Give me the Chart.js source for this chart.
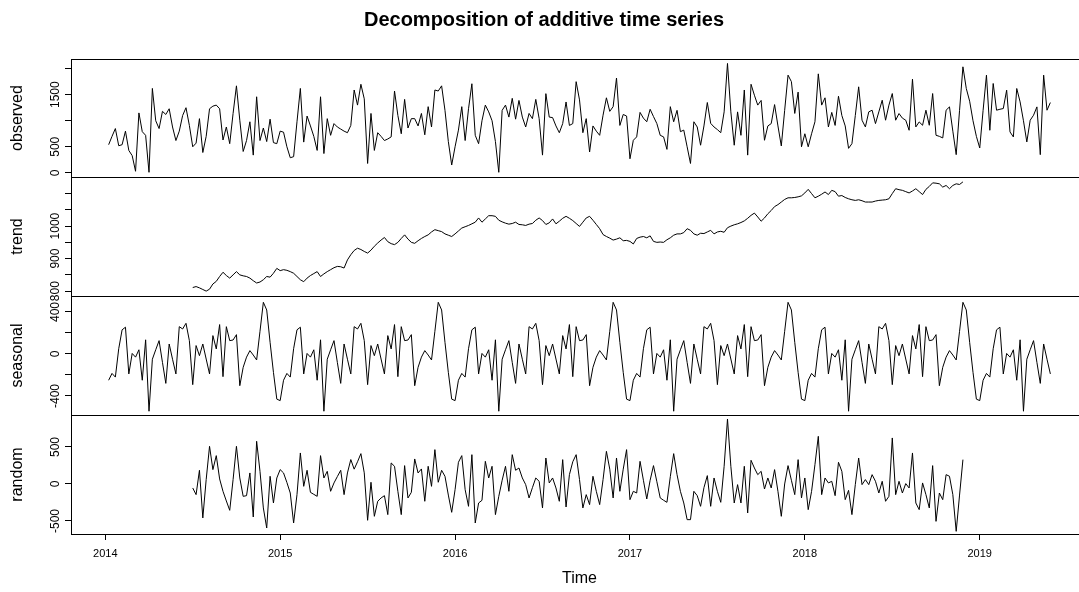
<!DOCTYPE html>
<html>
<head>
<meta charset="utf-8">
<title>Decomposition of additive time series</title>
<script src="https://cdn.jsdelivr.net/npm/chart.js@4.4.1/dist/chart.umd.min.js"></script>
<style>
  html, body { margin: 0; padding: 0; background: #fff; overflow: hidden; }
  #wrap { position: relative; width: 1079px; height: 592px; overflow: hidden; }
  #wrap canvas { position: absolute; left: 0; }
</style>
</head>
<body>
<div id="wrap">
  <canvas id="pObserved" width="1146" height="182" style="top:0px"></canvas>
  <canvas id="pTrend" width="1146" height="129" style="top:172px"></canvas>
  <canvas id="pSeasonal" width="1146" height="129" style="top:291px"></canvas>
  <canvas id="pRandom" width="1146" height="182" style="top:410px"></canvas>
</div>
<script>
// weekly series, first observation = week 2 of 2014
const observed = [
  540, 700, 850, 520, 540, 800, 430, 330, 30, 1150,
  790, 720, 10, 1620, 1000, 850, 1180, 1120, 1230, 880,
  620, 800, 1100, 1250, 910, 500, 570, 1040, 390, 700,
  1230, 1280, 1300, 1230, 630, 880, 560, 1140, 1670, 1010,
  410, 620, 980, 340, 1460, 620, 860, 600, 1030, 580,
  560, 800, 780, 500, 290, 310, 980, 1620, 590, 1090,
  900, 700, 430, 1460, 370, 1040, 720, 945, 880, 840,
  800, 770, 910, 1590, 1300, 1700, 1420, 180, 1140, 430,
  770, 700, 620, 650, 690, 1570, 1100, 750, 1410, 860,
  1040, 1040, 900, 1140, 730, 1270, 880, 1590, 1570, 1670,
  1200, 600, 150, 500, 820, 1270, 620, 1230, 1710, 720,
  560, 1000, 1300, 1170, 1000, 600, 10, 1200, 1300, 1070,
  1430, 1030, 1390, 1070, 880, 1140, 1040, 1410, 1040, 340,
  1520, 1070, 1060, 900, 770, 945, 1360, 910, 945, 1750,
  1400, 770, 1040, 400, 900, 800, 720, 1106, 1440, 1180,
  1270, 1820, 910, 1120, 1090, 270, 625, 690, 1160, 1050,
  980, 1220, 1080, 945, 720, 690, 450, 1270, 980, 1200,
  790, 820, 500, 180, 980, 880, 530, 900, 1350, 950,
  880, 830, 770, 1170, 2100, 1170, 530, 1170, 720, 1590,
  340, 1700, 1490, 1300, 1390, 625, 900, 945, 1310, 900,
  516, 1200, 1875, 1750, 1140, 1550, 500, 750, 500, 750,
  980, 1900, 1300, 1440, 880, 1160, 910, 1470, 1100, 900,
  470, 560, 1100, 1651, 1010, 881, 1170, 1202, 945, 1170,
  1394, 1010, 1300, 1522, 1010, 1138, 1050, 1010, 817, 1798,
  881, 977, 913, 1202, 913, 1522, 721, 700, 670, 1202,
  1266, 800, 349, 1200, 2035, 1619, 1375, 1000, 700, 477,
  1200, 1875, 817, 1715, 1202, 1220, 1234, 1587, 785, 689,
  1619, 1362, 1000, 593, 1010, 1106, 1266, 349, 1875, 1202,
  1349
];

// trend and random exist from week index 25 to 254
const TREND_FIRST = 25;
const trend = [
  811, 814, 810, 805, 800, 806, 822, 830, 845, 858,
  848, 840, 850, 860, 850, 847, 845, 840, 832, 825,
  828, 835, 845, 843, 855, 870, 863, 866, 864, 860,
  855, 845, 835, 829, 840, 848, 854, 860, 845, 853,
  860, 866, 872, 876, 875, 871, 896, 912, 925, 932,
  928, 922, 917, 926, 938, 948, 957, 965, 952, 946,
  943, 950, 962, 973, 960, 950, 947, 955, 962, 968,
  973, 982, 989, 986, 983, 976, 972, 968, 976, 985,
  994, 998, 1002, 1007, 1012, 1025, 1012, 1022, 1032, 1032,
  1030, 1018, 1013, 1009, 1006, 1008, 1012, 1005, 1004, 1002,
  1006, 1008, 1018, 1025, 1017, 1005, 1010, 1022, 1007, 1015,
  1024, 1030, 1024, 1017, 1008, 999, 1012, 1025, 1030, 1018,
  1005, 992, 974, 968, 963, 957, 960, 964, 955, 956,
  953, 945, 962, 966, 968, 964, 970, 953, 950, 951,
  950, 958, 964, 972, 976, 976, 980, 992, 987, 976,
  972, 978, 977, 982, 987, 976, 982, 984, 981, 995,
  1000, 1004, 1007, 1011, 1016, 1024, 1033, 1040, 1028, 1015,
  1025, 1038, 1048, 1060, 1066, 1074, 1082, 1087, 1087, 1088,
  1090, 1093, 1102, 1113, 1100, 1087, 1092, 1098, 1105, 1097,
  1110, 1106, 1092, 1094, 1088, 1084, 1081, 1079, 1081, 1078,
  1074, 1074, 1074, 1077, 1079, 1080, 1081, 1084, 1100, 1115,
  1112, 1110, 1106, 1102, 1108, 1115, 1106, 1097, 1113, 1122,
  1133, 1132, 1130, 1120, 1125, 1115, 1125, 1130, 1128, 1136
];

// one year of the seasonal figure (52 weeks), repeated over the series
const seasonalFigure = [
  -250, -185, -220, 50, 230, 255, -190, 5, -30, 40,
  -250, 135, -545, -50, 40, 127, -80, -280, 95, -50,
  -190, 260, 238, 292, 127, -292, 80, -16, 95, -48,
  -190, 175, 48, 280, -216, 260, 127, 133, 184, -302,
  -127, -30, 32, -10, -57, 216, 492, 419, 111, -175,
  -430, -444
];

const random = [
  -54, -144, 185, -459, 59, 509, 194, 383, 68, -99,
  -230, -356, 59, 509, 81, -167, -158, 149, -446, 577,
  171, -324, -595, 104, -257, 81, 194, 149, 20, -122,
  -527, -144, 419, -32, 185, -113, -140, -167, 383, 81,
  171, -99, 14, 100, 185, -144, 149, 330, 200, 300,
  410, 150, -491, 23, -437, -234, -189, -158, -414, 284,
  239, -100, -414, 248, -189, -113, 338, 149, 203, -234,
  239, -32, 464, 23, 185, 104, -150, -383, -77, 293,
  383, -77, -302, 396, -527, -257, -221, 306, 81, 239,
  -414, -167, 50, 239, -99, 396, 185, 216, 81, -9,
  -189, -50, 81, 36, -324, 351, 14, 81, -54, -234,
  329, -311, 126, 300, 396, 59, -324, -144, -279, 104,
  -100, -279, 59, 441, 200, -189, 351, -99, 200, 464,
  -212, -99, -122, 306, 50, -203, 50, 248, 30, -189,
  -220, -248, 100, 410, 126, -100, -257, -482, -482, -99,
  -158, -302, -50, 113, -302, 81, -100, -248, 239, 878,
  239, -257, -9, -257, 239, -392, 320, 216, 126, 171,
  -68, 81, -54, 194, -100, -437, 0, 248, 50, -144,
  329, -189, 81, -347, -100, 261, 644, -144, 81, 14,
  36, -158, 293, 171, -212, -86, -414, -9, 351, -9,
  59, -9, 126, 36, -122, 36, -234, -167, 622, -144,
  36, -122, 5, -54, 419, -257, -347, 14, -144, -324,
  248, -505, -122, -212, 126, 104, -144, -640, -150, 329
];

// axis ticks and the labels R kept
const yearTicks = [2014, 2015, 2016, 2017, 2018, 2019];
const observedTicks = [0, 500, 1000, 1500, 2000];
const observedLabels = [0, 500, 1500];
const trendTicks = [800, 850, 900, 950, 1000, 1050, 1100];
const trendLabels = [800, 900, 1000];
const seasonalTicks = [-400, -200, 0, 200, 400];
const seasonalLabels = [-400, 0, 400];
const randomTicks = [-500, 0, 500];
const randomLabels = [-500, 0, 500];

const FONT = "'Liberation Sans', Arial, Helvetica, sans-serif";
const X_MIN = 2013.804, X_MAX = 2019.619;
const AXIS_W = 71;
const RIGHT_MARGIN = 58;
const TICK_LEN = 6;
const LABEL_CENTER = 56;

const weekTime = (i) => 2014 + (i + 1) / 52;
const toPoints = (vals, first) => vals.map((v, k) => ({ x: weekTime(first + k), y: v }));

const measureCtx = document.createElement("canvas").getContext("2d");
function widest(labels, size){
  measureCtx.font = `${size}px ${FONT}`;
  return Math.max(...labels.map(l => measureCtx.measureText(String(l)).width));
}

// R draws a full box round every panel
const panelBox = {
  id: "panelBox",
  afterDraw(chart){
    const { ctx, chartArea: a } = chart;
    ctx.save();
    ctx.strokeStyle = "#000";
    ctx.lineWidth = 1;
    ctx.strokeRect(Math.round(a.left) + 0.5, Math.round(a.top) + 0.5,
      Math.round(a.right - a.left), Math.round(a.bottom - a.top));
    ctx.restore();
  }
};

function makePanel(canvasId, cfg){
  const w = widest(cfg.yLabels, 12);
  const xScale = cfg.showX ? {
    type: "linear", min: X_MIN, max: X_MAX,
    afterBuildTicks: (s) => { s.ticks = yearTicks.map(v => ({ value: v })); },
    afterFit: (s) => { s.height = 58; },
    border: { display: false },
    grid: { drawOnChartArea: false, drawTicks: true, tickLength: TICK_LEN, tickColor: "#000", tickWidth: 1 },
    ticks: { autoSkip: false, maxRotation: 0, padding: 7, color: "#000",
      font: { family: FONT, size: 11 }, callback: (v) => String(v) },
    title: { display: true, text: "Time", color: "#000",
      font: { family: FONT, size: 16 }, padding: { top: 0, bottom: 4 } }
  } : { type: "linear", min: X_MIN, max: X_MAX, display: false };

  return new Chart(document.getElementById(canvasId), {
    type: "line",
    data: {
      datasets: [{
        data: cfg.points,
        borderColor: "#000",
        borderWidth: 1,
        pointRadius: 0,
        tension: 0,
        fill: false
      }]
    },
    options: {
      responsive: false,
      animation: false,
      events: [],
      layout: { padding: { top: cfg.padTop, bottom: cfg.padBottom, left: 0, right: RIGHT_MARGIN } },
      plugins: {
        legend: { display: false },
        tooltip: { enabled: false },
        title: cfg.title ? {
          display: true, text: cfg.title, color: "#000",
          font: { family: FONT, size: 20, weight: "bold", lineHeight: 1.2 },
          padding: { top: 8, bottom: 27 }
        } : { display: false }
      },
      scales: {
        x: xScale,
        y: {
          min: cfg.yMin, max: cfg.yMax,
          afterFit: (s) => { s.width = AXIS_W; },
          afterBuildTicks: (s) => { s.ticks = cfg.yTicks.map(v => ({ value: v })); },
          border: { display: false },
          grid: { drawOnChartArea: false, drawTicks: true, tickLength: TICK_LEN, tickColor: "#000", tickWidth: 1 },
          ticks: {
            autoSkip: false, minRotation: 90, maxRotation: 90, crossAlign: "center",
            padding: AXIS_W - TICK_LEN - LABEL_CENTER - w / 2,
            color: "#000", font: { family: FONT, size: 12 },
            callback: (v) => cfg.yLabels.includes(v) ? String(v) : ""
          },
          title: { display: true, text: cfg.name, color: "#000",
            font: { family: FONT, size: 16 }, padding: { top: 8, bottom: 0 } }
        }
      }
    },
    plugins: [panelBox]
  });
}

makePanel("pObserved", {
  name: "observed", title: "Decomposition of additive time series",
  points: toPoints(observed, 0),
  yMin: -80, yMax: 2185, yTicks: observedTicks, yLabels: observedLabels,
  padTop: 0, padBottom: 5, showX: false
});

makePanel("pTrend", {
  name: "trend",
  points: toPoints(trend, TREND_FIRST),
  yMin: 785, yMax: 1151, yTicks: trendTicks, yLabels: trendLabels,
  padTop: 5, padBottom: 5, showX: false
});

makePanel("pSeasonal", {
  name: "seasonal",
  points: toPoints(observed.map((_, i) => seasonalFigure[i % 52]), 0),
  yMin: -581, yMax: 552, yTicks: seasonalTicks, yLabels: seasonalLabels,
  padTop: 5, padBottom: 5, showX: false
});

makePanel("pRandom", {
  name: "random",
  points: toPoints(random, TREND_FIRST),
  yMin: -676, yMax: 932, yTicks: randomTicks, yLabels: randomLabels,
  padTop: 5, padBottom: 0, showX: true
});
</script>
</body>
</html>
